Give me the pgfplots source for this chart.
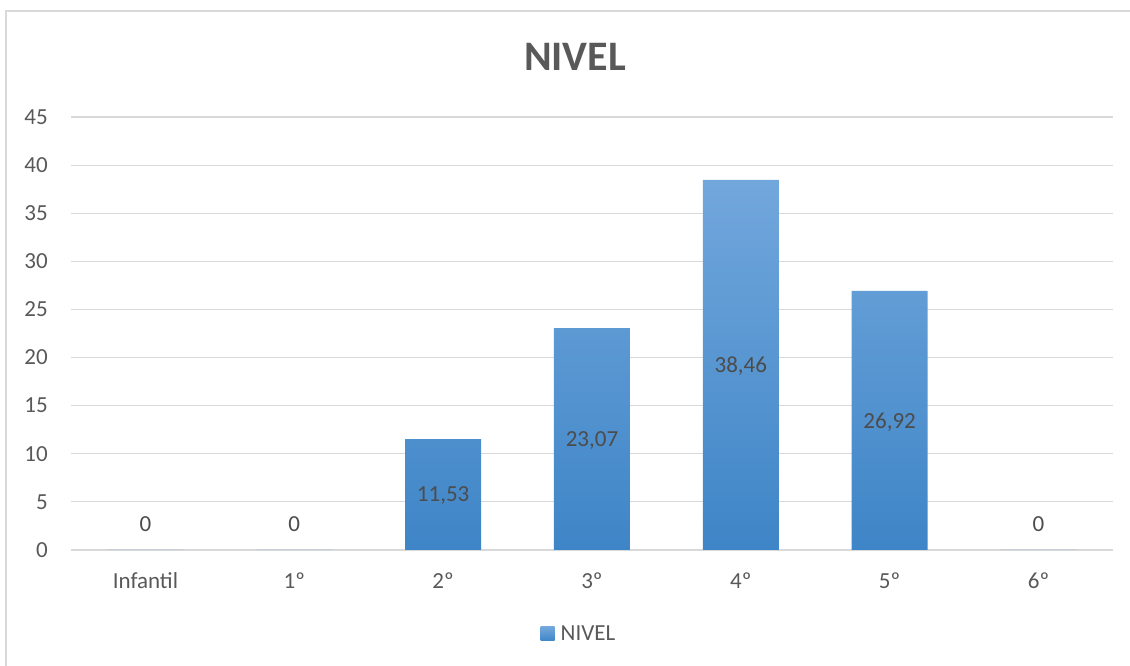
\documentclass[border=0pt]{standalone}
\usepackage{fontspec}
\setmainfont{Carlito}
\usepackage{pgfplots}
\pgfplotsset{compat=1.18}
\definecolor{txtgray}{HTML}{595959}
\definecolor{gridgray}{HTML}{D9D9D9}
\definecolor{bartop}{RGB}{114,167,220}
\definecolor{barbot}{RGB}{62,133,199}

\begin{document}
\begin{tikzpicture}
\useasboundingbox (0,0) rectangle (1130pt,666pt);
% chart frame
\draw[gridgray, line width=1.2pt] (6pt,0pt) -- (6pt,655pt) -- (1130pt,655pt);
\node[font=\bfseries\fontsize{42}{48}\selectfont, text=txtgray] at (575pt,609pt) {NIVEL};
\begin{axis}[
    at={(71pt,116pt)}, anchor=south west,
    scale only axis,
    width=1042pt, height=433pt,
    xmin=-0.5, xmax=6.5,
    ymin=0, ymax=45,
    ytick={0,5,...,45},
    xtick={0,...,6},
    xticklabels={Infantil,1º,2º,3º,4º,5º,6º},
    major tick length=0pt,
    axis line style={draw=none},
    ymajorgrids,
    grid style={gridgray, line width=1.2pt},
    extra y ticks={0}, extra y tick labels={},
    extra y tick style={grid style={gridgray, line width=2.2pt}},
    tick label style={font=\fontsize{23}{27}\selectfont, text=txtgray},
    y tick label style={anchor=east, inner sep=0pt, xshift=-23pt},
    x tick label style={anchor=base, yshift=-39pt},
    /pgf/number format/assume math mode=true,
    legend style={at={(0.4875,-0.194)}, anchor=center, draw=none, fill=none,
        font=\fontsize{23}{27}\selectfont, text=txtgray},
    legend image code/.code={%
        \path[top color=bartop, bottom color=barbot] (0pt,-7pt) rectangle (14pt,7pt);
        \path (18pt,0pt);},
]
\addplot[ybar, bar width=76pt, draw=none, top color=bartop, bottom color=barbot,
    visualization depends on={rawy \as \rawy},
    nodes near coords={\pgfmathprintnumber[use comma,fixed,precision=2]{\pgfplotspointmeta}},
    every node near coord/.append style={anchor=center, text depth=0pt,
        font=\fontsize{23}{27}\selectfont, text=txtgray!85!black,
        yshift={(\rawy==0)*26 - (\rawy>0)*\rawy*4.811}},
] coordinates {
    (0,0) (1,0) (2,11.53) (3,23.07) (4,38.46) (5,26.92) (6,0)
};
\legend{NIVEL}
\end{axis}
\end{tikzpicture}
\end{document}
